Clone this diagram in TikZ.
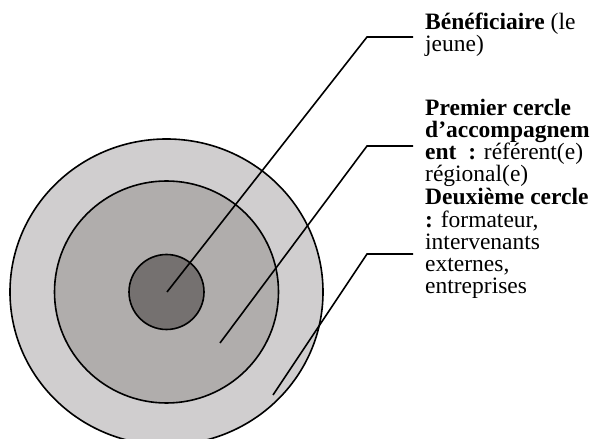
\documentclass[tikz,border=0pt]{standalone}
\usepackage{fontspec}
\setmainfont{Liberation Serif}
\definecolor{ring_outer}{RGB}{208,206,207}
\definecolor{ring_mid}{RGB}{176,173,172}
\definecolor{ring_core}{RGB}{117,113,112}
\begin{document}
\begin{tikzpicture}[
        x=1pt, y=1pt,
        ring/.style={
            draw=black,
            line width=1.6pt
        },
        leader/.style={
            line width=1.6pt
        },
        caption/.style={
            anchor=base west,
            align=left,
            inner sep=0pt,
            font=\fontsize{23.5}{22.3}\selectfont
        }
    ]
        \useasboundingbox (0,0) rectangle (598,439);

        % concentric circles
        \fill[ring_outer] (166.5,147) ellipse [x radius=156.5, y radius=153];
        \draw[ring] (166.5,147) ellipse [x radius=156.5, y radius=153];
        \draw[ring, fill=ring_mid] (166.5,147) ellipse [x radius=112, y radius=111];
        \draw[ring, fill=ring_core] (166.5,147) circle [radius=37.5];

        % labels (anchored on their last line)
        \node[caption] (benef) at (425,387) {\textbf{Bénéficiaire} (le\\jeune)};
        \node[caption] (first) at (425,257) {\textbf{Premier cercle}\\\textbf{d’accompagnem}\\\textbf{ent~ :} référent(e)\\régional(e)};
        \node[caption] (second) at (425,145) {\textbf{Deuxième cercle}\\\textbf{:} formateur,\\intervenants\\externes,\\entreprises};

        % leader lines
        \coordinate (benef_in) at (167,147);
        \coordinate (benef_knee) at (367,402);
        \coordinate (benef_end) at (413,402);
        \coordinate (first_in) at (220,96);
        \coordinate (first_knee) at (367,293);
        \coordinate (first_end) at (413,293);
        \coordinate (second_in) at (273,44);
        \coordinate (second_knee) at (367,185);
        \coordinate (second_end) at (413,185);

        \draw[leader] (benef_in) -- (benef_knee) -- (benef_end);
        \draw[leader] (first_in) -- (first_knee) -- (first_end);
        \draw[leader] (second_in) -- (second_knee) -- (second_end);
    \end{tikzpicture}
\end{document}
